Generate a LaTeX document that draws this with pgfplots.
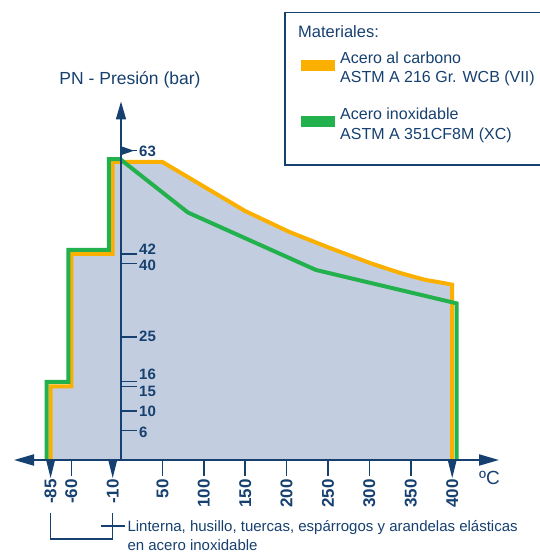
\documentclass[border=0pt]{standalone}
\usepackage{fontspec}
\setmainfont{Liberation Sans}
\usepackage{pgfplots}
\pgfplotsset{compat=1.18}
\usetikzlibrary{arrows.meta}

\definecolor{navy}{HTML}{16406F}
\definecolor{carbono}{HTML}{FBB000}
\definecolor{inox}{HTML}{22B14C}
\definecolor{relleno}{HTML}{C3CDE0}

\newcommand{\fs}[1]{\fontsize{#1}{#1}\selectfont}

\begin{document}
\begin{tikzpicture}

\begin{axis}[
  hide axis, clip=false,
  x=0.828pt, y=4.91pt,
  xmin=-130, xmax=460, ymin=0, ymax=75,
  anchor=south west, at={(13.36pt,92pt)},
]
% acero al carbono
\addplot[draw=carbono, fill=relleno, line width=4pt, line join=miter] coordinates {
 (-85,0) (-85,15) (-60,15) (-60,42) (-10,42) (-10,60.7) (50,60.7)
 (150,50.7) (204,46.4) (252,43.2) (301,40.1) (337,38.1) (367,36.7) (391,36.0) (400,35.7) (400,0)
};
% acero inoxidable
\addplot[draw=inox, line width=4pt, line join=miter] coordinates {
 (-89.7,0) (-89.7,15.9) (-63.6,15.9) (-63.6,42.8) (-14.5,42.8) (-14.5,61.3) (-1.2,61.3)
 (80.9,50.4) (235.5,38.7) (405.4,31.9) (405.4,0)
};
\end{axis}

\begin{scope}[x=1pt,y=1pt]
 % ejes
 \draw[navy, line width=1.5pt, -{Triangle[length=18pt,width=10pt]}] (121,92) -- (121,450.5);
 \draw[navy, line width=2pt, {Triangle[length=20pt,width=11pt]}-{Triangle[length=20pt,width=11pt]}] (14,92) -- (499,92);
 % marcas eje x
 \foreach \v in {-60,50,100,150,200,250,300,350}
  \draw[navy, line width=1.5pt] ({121+0.828*\v},92) -- ++(0,-16);
 \foreach \v in {-85,-10,400}
  \fill[navy] ({121+0.828*\v-4.5},92) -- ({121+0.828*\v+4.5},92) -- ({121+0.828*\v},74) -- cycle;
 \foreach \v in {-85,-60,-10,50,100,150,200,250,300,350,400}
  \node[navy, font=\fs{17}\bfseries, rotate=90, anchor=east, inner sep=0pt] at ({121+0.828*\v},73) {\v};
 % marcas eje y
 \foreach \v in {6,10,15,16,25,40,42}
  \draw[navy, line width=1.5pt] (121,{92+4.91*\v}) -- ++(16,0);
 \fill[navy] (121,405.8) -- (134,401.3) -- (121,396.8) -- cycle;
 \draw[navy, line width=1.5pt] (121,401.3) -- ++(16,0);
 \foreach \v/\p in {6/432,10/411,15/391.5,16/374.5,25/336,40/265,42/249,63/151.5}
  \node[navy, font=\fs{15}\bfseries, anchor=west, inner sep=0pt] at (139,552-\p) {\v};
 % titulos
 \node[navy, font=\fs{19}, anchor=west, inner sep=0pt] at (479,74) {ºC};
 \node[navy, font=\fs{17.5}, inner sep=0pt] at (130,472) {PN - Presión (bar)};
 % leyenda
 \draw[navy, line width=1.5pt] (285,539.3) rectangle (570,387);
 \node[navy, font=\fs{16.5}, anchor=west, inner sep=0pt] at (298,520) {Materiales:};
 \fill[carbono] (300.7,492) rectangle (335,481.3);
 \fill[inox] (300.7,436) rectangle (335,424.7);
 \node[navy, font=\fs{16}, anchor=west, inner sep=0pt] at (340,494) {Acero al carbono};
 \node[navy, font=\fs{16}, anchor=west, inner sep=0pt] at (340,474) {ASTM A 216 Gr. WCB (VII)};
 \node[navy, font=\fs{16}, anchor=west, inner sep=0pt] at (340,438) {Acero inoxidable};
 \node[navy, font=\fs{16}, anchor=west, inner sep=0pt] at (340,417) {ASTM A 351CF8M (XC)};
 % nota
 \draw[navy, line width=1.2pt] (50.6,39) -- (50.6,13) -- (112.7,13) -- (112.7,39);
 \draw[navy, line width=1.2pt] (100.7,26) -- (125,26);
 \node[navy, font=\fs{15}, anchor=west, inner sep=0pt] at (127.3,24) {Linterna, husillo, tuercas, espárrogos y arandelas elásticas};
 \node[navy, font=\fs{15}, anchor=west, inner sep=0pt] at (127.3,7) {en acero inoxidable};
\end{scope}

\pgfresetboundingbox
\path[use as bounding box] (0pt,0pt) rectangle (540pt,552pt);
\end{tikzpicture}
\end{document}
